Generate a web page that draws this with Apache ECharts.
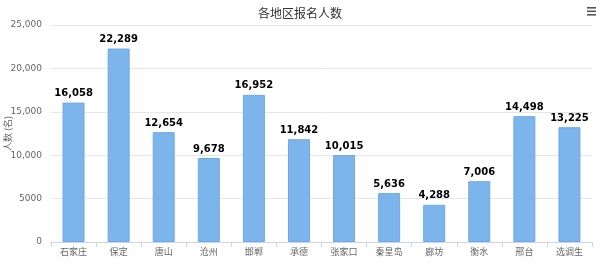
<!DOCTYPE html>
<html><head><meta charset="utf-8">
<script src="https://cdn.jsdelivr.net/npm/echarts@6/dist/echarts.min.js"></script>
<style>html,body{margin:0;padding:0;background:#fff}#c{width:600px;height:268px}</style>
</head><body><div id="c"></div>
<script>
var categories = ['石家庄','保定','唐山','沧州','邯郸','承德','张家口','秦皇岛','廊坊','衡水','邢台','选调生'];
var values = [16058, 22289, 12654, 9678, 16952, 11842, 10015, 5636, 4288, 7006, 14498, 13225];
var yTicks = [0, 5000, 10000, 15000, 20000, 25000];

function fmt(v){ return v >= 10000 ? String(v).replace(/\B(?=(\d{3})+(?!\d))/g, ',') : String(v); }
function fmtLabel(v){ return String(v).replace(/\B(?=(\d{3})+(?!\d))/g, ','); }

var chart = echarts.init(document.getElementById('c'), null, {renderer:'canvas'});
chart.setOption({
  animation: false,
  title: { text: '各地区报名人数', left: 'center', top: 2,
    textStyle: { fontSize: 12, fontWeight: 'normal', color: '#333', fontFamily: 'Noto Sans CJK SC' } },
  grid: { left: 51, right: 8, top: 25, bottom: 26, containLabel: false, outerBoundsMode: 'none' },
  graphic: [
    { type: 'rect', shape: { x: 587, y: 7, width: 9, height: 1.6 }, style: { fill: '#555' } },
    { type: 'rect', shape: { x: 587, y: 10.5, width: 9, height: 1.6 }, style: { fill: '#555' } },
    { type: 'rect', shape: { x: 587, y: 14, width: 9, height: 1.6 }, style: { fill: '#555' } }
  ],
  xAxis: {
    type: 'category', data: categories,
    axisLine: { lineStyle: { color: '#ccd6eb' } },
    axisTick: { show: true, alignWithLabel: false, length: 5, lineStyle: { color: '#ccd6eb' } },
    axisLabel: { color: '#666', fontSize: 9, margin: 5, fontFamily: 'Noto Sans CJK SC' }
  },
  yAxis: {
    type: 'value', min: yTicks[0], max: yTicks[yTicks.length-1], interval: 5000,
    name: '人数 (名)', nameLocation: 'middle', nameRotate: 90, nameGap: 39, nameMoveOverlap: false,
    nameTextStyle: { color: '#666', fontSize: 9, fontFamily: 'Noto Sans CJK SC' },
    axisLine: { show: false }, axisTick: { show: false },
    splitLine: { lineStyle: { color: '#e6e6e6' } },
    axisLabel: { color: '#666', fontSize: 9, margin: 9, formatter: fmt, fontFamily: 'Verdana, DejaVu Sans' }
  },
  series: [{
    type: 'bar', data: values, barWidth: 22,
    itemStyle: { color: '#7cb5ec', borderColor: '#6fa8e6', borderWidth: 1 },
    label: { show: true, position: 'top', distance: 4, color: '#000', fontWeight: 'bold', fontSize: 10,
      fontFamily: 'DejaVu Sans', formatter: function(p){ return fmtLabel(p.value); } }
  }]
});
</script></body></html>
